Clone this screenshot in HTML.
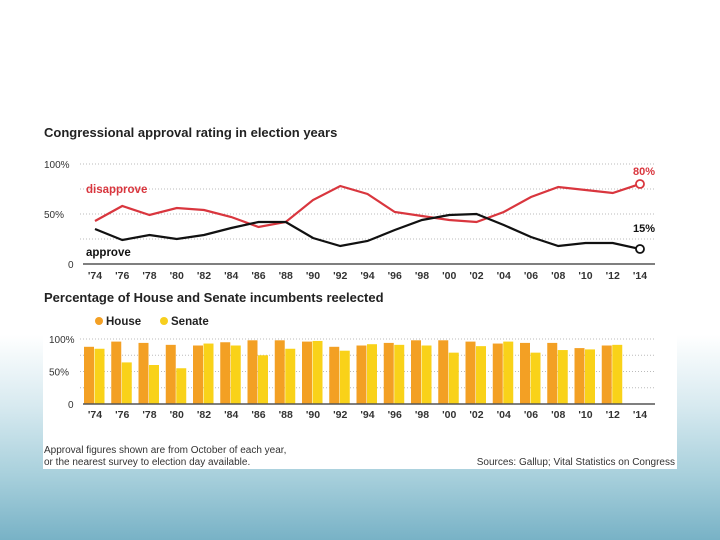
<!DOCTYPE html>
<html><head><meta charset="utf-8"><style>
html,body{margin:0;padding:0}
body{width:720px;height:540px;overflow:hidden;position:relative;font-family:"Liberation Sans",sans-serif;
background:linear-gradient(180deg,#ffffff 0%,#ffffff 62%,#d8eaf0 75%,#a8d0dc 88%,#78b2c6 100%);}
svg{position:absolute;left:0;top:0;display:block}
</style></head><body>
<svg width="720" height="540">
<rect x="43" y="125" width="634" height="344" fill="#fff"/>
<g id="topg"></g>
<g id="botg"></g>
</svg>
<script>
const years=["'74","'76","'78","'80","'82","'84","'86","'88","'90","'92","'94","'96","'98","'00","'02","'04","'06","'08","'10","'12","'14"];
const disapprove=[43,58,49,56,54,47,37,42,64,78,70,52,48,44,42,52,67,77,74,71,80];
const approve=[35,24,29,25,29,36,42,42,26,18,23,34,44,49,50,39,27,18,21,21,15];
const house=[88,96,94,91,90,95,98,98,96,88,90,94,98,98,96,93,94,94,86,90];
const senate=[85,64,60,55,93,90,75,85,97,82,92,91,90,79,89,96,79,83,84,91];
const topTicks=["0","50%","100%"];
const botTicks=["0","50%","100%"];
const NS="http://www.w3.org/2000/svg";
function mk(p,t,a,txt){const e=document.createElementNS(NS,t);for(const k in a)e.setAttribute(k,a[k]);if(txt!==undefined)e.textContent=txt;p.appendChild(e);return e;}
const xs=i=>95+i*27.25;
const topG=document.getElementById('topg'),botG=document.getElementById('botg');
const yT=v=>264-v*1.0;
const yB=v=>404-v*0.65;
let t=mk(topG,'text',{x:44,y:137,'font-size':13,'font-weight':'bold',fill:'#222'},'Congressional approval rating in election years');


[25,50,75,100].forEach(v=>{const l=mk(topG,'line',{x1:80,x2:655,y1:yT(v),y2:yT(v),stroke:'#bbb','stroke-dasharray':'1,2'});

});
topTicks.forEach((s,i)=>{const e=mk(topG,'text',{x:i==0?68:44,y:yT(i*50)+4,'font-size':10,fill:'#333'},s);

});
let ax=mk(topG,'line',{x1:83,x2:655,y1:264,y2:264,stroke:'#555','stroke-width':1.5});


years.forEach((s,i)=>{const e=mk(topG,'text',{x:xs(i),y:279,'font-size':10.5,'font-weight':'bold','text-anchor':'middle',fill:'#333'},s);

});
let p=mk(topG,'polyline',{points:disapprove.map((v,i)=>xs(i)+','+yT(v)).join(' '),fill:'none',stroke:'#d9363e','stroke-width':2.2});


p=mk(topG,'polyline',{points:approve.map((v,i)=>xs(i)+','+yT(v)).join(' '),fill:'none',stroke:'#111','stroke-width':2.2});


const L=years.length-1;
let c=mk(topG,'circle',{cx:xs(L),cy:yT(disapprove[L]),r:4,fill:'#fff',stroke:'#d9363e','stroke-width':1.8});


c=mk(topG,'circle',{cx:xs(L),cy:yT(approve[L]),r:4,fill:'#fff',stroke:'#111','stroke-width':1.8});


t=mk(topG,'text',{x:xs(L)+4,y:yT(disapprove[L])-9,'font-size':11,'font-weight':'bold','text-anchor':'middle',fill:'#d9363e'},disapprove[L]+'%');


t=mk(topG,'text',{x:xs(L)+4,y:yT(approve[L])-17,'font-size':11,'font-weight':'bold','text-anchor':'middle',fill:'#111'},approve[L]+'%');


t=mk(topG,'text',{x:86,y:193,'font-size':11.5,'font-weight':'bold',fill:'#d9363e'},'disapprove');


t=mk(topG,'text',{x:86,y:256,'font-size':11.5,'font-weight':'bold',fill:'#111'},'approve');



t=mk(botG,'text',{x:44,y:302,'font-size':13,'font-weight':'bold',fill:'#222'},'Percentage of House and Senate incumbents reelected');


c=mk(botG,'circle',{cx:99,cy:321,r:4,fill:'#f3a024'});


t=mk(botG,'text',{x:106,y:325,'font-size':11.5,'font-weight':'bold',fill:'#222'},'House');


c=mk(botG,'circle',{cx:164,cy:321,r:4,fill:'#f7cf1e'});


t=mk(botG,'text',{x:171,y:325,'font-size':11.5,'font-weight':'bold',fill:'#222'},'Senate');


[25,50,75,100].forEach(v=>{const l=mk(botG,'line',{x1:80,x2:655,y1:yB(v),y2:yB(v),stroke:'#bbb','stroke-dasharray':'1,2'});

});
house.forEach((v,i)=>{const r=mk(botG,'rect',{x:xs(i)-11,y:yB(v),width:10,height:404-yB(v),fill:'#f3a024'});

});
senate.forEach((v,i)=>{const r=mk(botG,'rect',{x:xs(i)-0.5,y:yB(v),width:10,height:404-yB(v),fill:'#f9d219'});

});
botTicks.forEach((s,i)=>{const e=mk(botG,'text',{x:i==0?68:49,y:yB(i*50)+4,'font-size':10,fill:'#333'},s);

});
ax=mk(botG,'line',{x1:83,x2:655,y1:404,y2:404,stroke:'#555','stroke-width':1.5});


years.forEach((s,i)=>{const e=mk(botG,'text',{x:xs(i),y:418,'font-size':10.5,'font-weight':'bold','text-anchor':'middle',fill:'#333'},s);

});
t=mk(botG,'text',{x:44,y:453,'font-size':10,fill:'#333'},'Approval figures shown are from October of each year,');


t=mk(botG,'text',{x:44,y:465,'font-size':10,fill:'#333'},'or the nearest survey to election day available.');


t=mk(botG,'text',{x:675,y:465,'font-size':10,fill:'#333','text-anchor':'end'},'Sources: Gallup; Vital Statistics on Congress');


</script>
</body></html>
